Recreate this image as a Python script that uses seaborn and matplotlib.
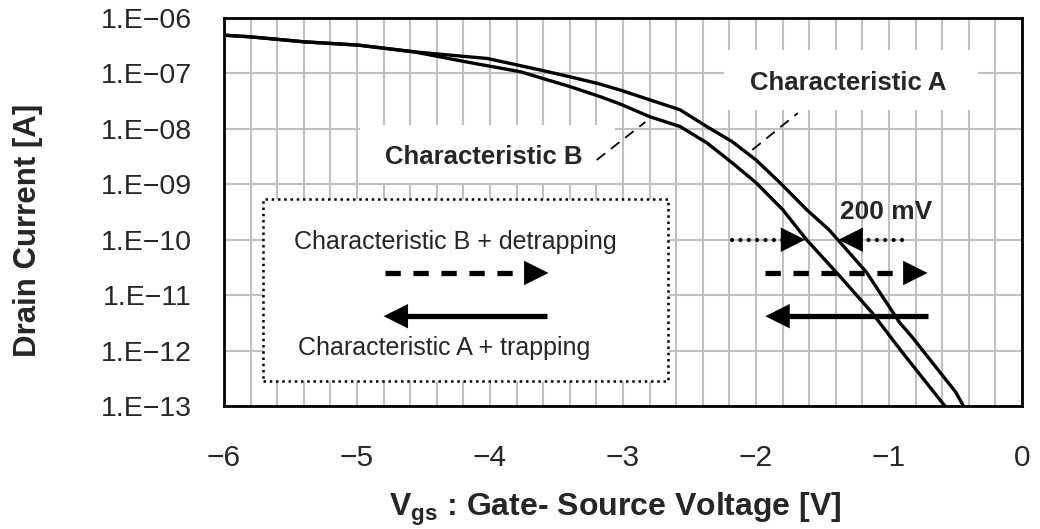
import numpy as np
import pandas as pd
import matplotlib
matplotlib.use("Agg")
import matplotlib.pyplot as plt
from matplotlib.ticker import FixedLocator, MultipleLocator, FuncFormatter, NullLocator
from matplotlib.patches import Rectangle
import seaborn as sns

# Transfer characteristics (Vgs in volts, drain current in amperes)
vgs_a = [-6.00, -5.80, -5.40, -4.99, -4.57, -4.02, -3.62, -3.40, -3.19, -3.02,
         -2.57, -2.37, -2.18, -2.00, -1.82, -1.62, -1.45, -1.17, -0.92, -0.83,
         -0.50, -0.44]
id_a = [4.9e-7, 4.57e-7, 3.72e-7, 3.24e-7, 2.45e-7, 1.86e-7, 1.15e-7, 8.7e-8,
        6.6e-8, 5.0e-8, 2.2e-8, 1.1e-8, 5.9e-9, 2.75e-9, 1.07e-9, 3.5e-10,
        1.5e-10, 2.6e-11, 3.2e-12, 1.8e-12, 1.8e-13, 1.0e-13]

vgs_b = [-6.00, -5.80, -5.40, -4.99, -4.57, -4.47, -4.17, -3.77, -3.40, -3.17,
         -3.02, -2.80, -2.57, -2.37, -2.18, -2.00, -1.80, -1.62, -1.37, -1.13,
         -0.90, -0.58]
id_b = [4.9e-7, 4.57e-7, 3.72e-7, 3.24e-7, 2.45e-7, 2.2e-7, 1.6e-7, 1.07e-7,
        5.8e-8, 3.8e-8, 2.8e-8, 1.66e-8, 1.1e-8, 5.6e-9, 2.45e-9, 1.07e-9,
        3.5e-10, 1.0e-10, 2.2e-11, 4.9e-12, 9.3e-13, 1.0e-13]

x_ticks = [-6, -5, -4, -3, -2, -1, 0]
y_exponents = [-6, -7, -8, -9, -10, -11, -12, -13]

sns.set_style("white")
plt.rcParams["font.family"] = ["Liberation Sans", "DejaVu Sans"]
plt.rcParams["mathtext.fontset"] = "custom"
plt.rcParams["mathtext.rm"] = "Liberation Sans"
plt.rcParams["mathtext.bf"] = "Liberation Sans:bold"

fig = plt.figure(figsize=(10.4, 5.29), dpi=100)
ax = fig.add_axes([224 / 1040, 1 - 406 / 529, 798 / 1040, 388 / 529])

df = pd.concat([
    pd.DataFrame({"Vgs": vgs_a, "Id": id_a, "curve": "A"}),
    pd.DataFrame({"Vgs": vgs_b, "Id": id_b, "curve": "B"}),
], ignore_index=True)

sns.lineplot(data=df, x="Vgs", y="Id", units="curve", estimator=None,
             sort=False, color="black", lw=2.4, ax=ax, legend=False, zorder=5)

ax.set_yscale("log")
ax.set_xlim(-6, 0)
ax.set_ylim(1e-13, 1e-6)

ax.xaxis.set_major_locator(FixedLocator(x_ticks))
ax.xaxis.set_minor_locator(MultipleLocator(0.2))
ax.yaxis.set_major_locator(FixedLocator([10.0 ** e for e in y_exponents]))
ax.yaxis.set_minor_locator(NullLocator())
ax.yaxis.set_major_formatter(FuncFormatter(
    lambda v, p: "1.E\u2212%02d" % abs(int(round(np.log10(v))))))
ax.xaxis.set_major_formatter(FuncFormatter(
    lambda v, p: "0" if v == 0 else "\u2212%d" % abs(int(v))))

ax.grid(which="both", axis="x", color="#c0c0c0", lw=1.5, zorder=0)
ax.grid(which="major", axis="y", color="#c0c0c0", lw=1.5, zorder=0)
ax.set_axisbelow(True)

ax.tick_params(axis="both", which="major", direction="in", length=7, width=1.5,
               color="black")
ax.tick_params(axis="x", which="minor", length=0)
ax.tick_params(axis="y", labelsize=20.5, pad=23)
ax.tick_params(axis="x", labelsize=21.5, pad=27)
for s in ax.spines.values():
    s.set_color("black")
    s.set_linewidth(2)

ax.set_ylabel("Drain Current [A]", fontsize=22.5, fontweight="bold")
ax.yaxis.set_label_coords(-0.2268, 0.4536)
ax.set_xlabel(r"$\mathbf{V_{gs}}$ : Gate- Source Voltage [V]", fontsize=23,
              fontweight="bold")
ax.xaxis.set_label_coords(0.49, -0.2191)

# White label panels over the grid
ax.add_patch(Rectangle((0.627, 0.763), 0.318, 0.155, transform=ax.transAxes,
                       facecolor="white", edgecolor="none", zorder=2))
ax.add_patch(Rectangle((0.170, 0.575), 0.320, 0.149, transform=ax.transAxes,
                       facecolor="white", edgecolor="none", zorder=2))
ax.text(0.782, 0.832, "Characteristic A", transform=ax.transAxes, fontsize=18.5,
        fontweight="bold", ha="center", va="center", zorder=6)
ax.text(0.325, 0.642, "Characteristic B", transform=ax.transAxes, fontsize=18.5,
        fontweight="bold", ha="center", va="center", zorder=6)

# Leader lines to the curves
ax.plot([0.662, 0.719], [0.660, 0.755], transform=ax.transAxes, color="black",
        lw=1.3, ls=(0, (6, 4)), zorder=6)
ax.plot([0.467, 0.528], [0.634, 0.732], transform=ax.transAxes, color="black",
        lw=1.3, ls=(0, (6, 4)), zorder=6)

# Legend panel with dotted frame
ax.add_patch(Rectangle((0.049, 0.064), 0.507, 0.470, transform=ax.transAxes,
                       facecolor="white", edgecolor="black", lw=1.8,
                       ls=(0, (1, 1.5)), zorder=3))
ax.text(0.290, 0.423, "Characteristic B + detrapping", transform=ax.transAxes,
        fontsize=18, ha="center", va="center", zorder=6)
ax.text(0.276, 0.150, "Characteristic A + trapping", transform=ax.transAxes,
        fontsize=18, ha="center", va="center", zorder=6)


def arrow(x0, x1, y, ls, dotted=False):
    """Horizontal arrow from x0 to x1 at current level y (data coords)."""
    ax.annotate("", xy=(x1, y), xytext=(x0, y), zorder=7,
                arrowprops=dict(arrowstyle="-|>,head_length=1.1,head_width=0.55",
                                lw=0, color="black", shrinkA=0, shrinkB=0,
                                mutation_scale=16))
    stop = x1 - np.sign(x1 - x0) * 0.12
    ax.plot([x0, stop], [y, y], color="black", ls=ls, zorder=7,
            lw=3.0 if dotted else 3.8, solid_capstyle="butt",
            dash_capstyle="round" if dotted else "butt")


dash = (0, (2.9, 2.4))
dot = (0, (0.01, 2.0))
# dotted arrows marking the 200 mV shift at 1e-10 A
arrow(-2.18, -1.63, 1e-10, dot, dotted=True)
arrow(-0.90, -1.38, 1e-10, dot, dotted=True)
# sweep direction arrows
arrow(-1.93, -0.71, 10 ** -10.6, dash)
arrow(-0.71, -1.93, 10 ** -11.38, "-")
arrow(-4.79, -3.56, 10 ** -10.6, dash)
arrow(-3.57, -4.80, 10 ** -11.38, "-")

ax.text(0.8296, 0.500, "200 mV", transform=ax.transAxes, fontsize=19,
        fontweight="bold", ha="center", va="center", zorder=6)

fig.savefig("out.png", dpi=100)
